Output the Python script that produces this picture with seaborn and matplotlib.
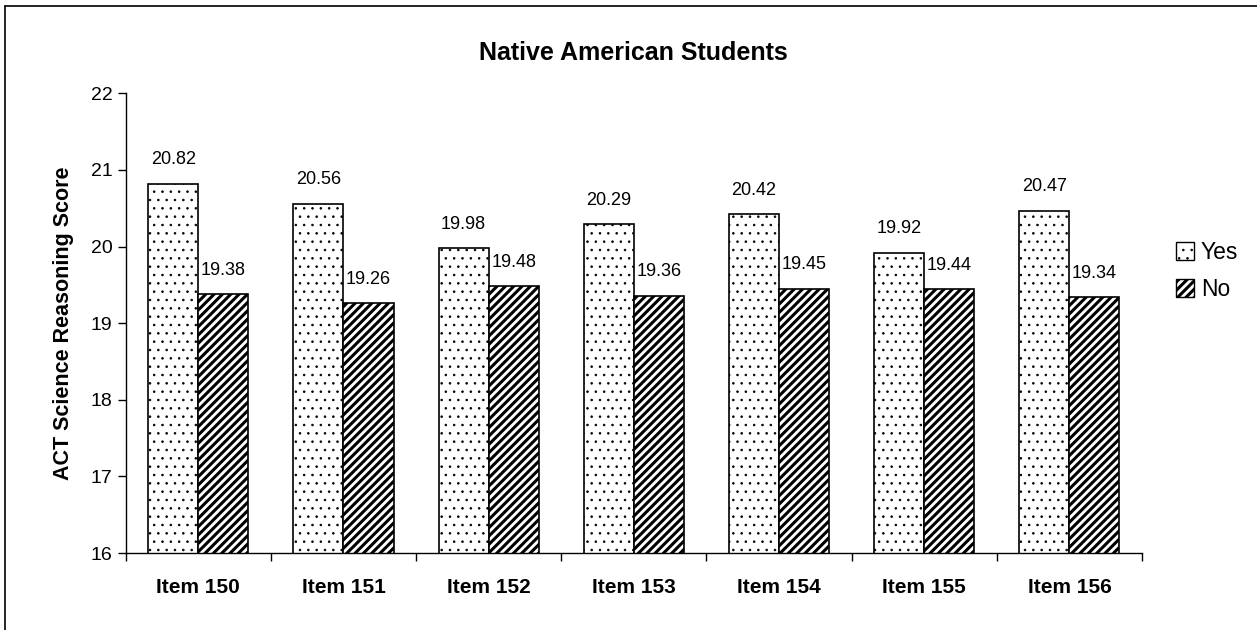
import pandas as pd
import matplotlib.pyplot as plt
import seaborn as sns
from matplotlib.lines import Line2D
from matplotlib.patches import Patch

# values
items = ["Item 150", "Item 151", "Item 152", "Item 153", "Item 154", "Item 155", "Item 156"]
yes_scores = [20.82, 20.56, 19.98, 20.29, 20.42, 19.92, 20.47]
no_scores = [19.38, 19.26, 19.48, 19.36, 19.45, 19.44, 19.34]

df = pd.DataFrame({
    "item": items * 2,
    "answer": ["Yes"] * len(items) + ["No"] * len(items),
    "score": yes_scores + no_scores,
})

sns.set_style("white")
plt.rcParams["font.family"] = ["Liberation Sans", "DejaVu Sans"]
plt.rcParams["hatch.linewidth"] = 2.2
for key in ["text.color", "axes.labelcolor", "xtick.color", "ytick.color"]:
    plt.rcParams[key] = "black"

fig = plt.figure(figsize=(12.57, 6.3), dpi=100)
ax = fig.add_axes([0.100, 0.122, 0.8085, 0.730])

sns.barplot(data=df, x="item", y="score", hue="answer", hue_order=["Yes", "No"],
            width=0.69, gap=0, edgecolor="black", linewidth=1.2,
            palette=["white", "white"], ax=ax, legend=False)

hatches = ["..", "////"]
hatch_lw = [0.6, 2.2]
for cont, h, hlw in zip(ax.containers, hatches, hatch_lw):
    for bar in cont:
        bar.set_hatch(h)
        bar.set_edgecolor("black")
        if hasattr(bar, "set_hatch_linewidth"):
            bar.set_hatch_linewidth(hlw)
    ax.bar_label(cont, fmt="%.2f", padding=11, fontsize=13, color="black")

ax.set_ylim(16, 22)
ax.set_yticks(range(16, 23))
ax.set_xlim(-0.5, len(items) - 0.5)
ax.tick_params(axis="y", labelsize=14, length=6, width=1, direction="out", left=True)
ax.tick_params(axis="x", which="major", length=0, labelsize=15, pad=18)
ax.set_xticks([i + 0.5 for i in range(-1, len(items))], minor=True)
ax.tick_params(axis="x", which="minor", length=6, width=1, direction="out", bottom=True)
for lab in ax.get_xticklabels():
    lab.set_fontweight("bold")

ax.set_xlabel("")
ax.set_ylabel("ACT Science Reasoning Score", fontsize=15.5, fontweight="bold", labelpad=12)
ax.set_title("Native American Students", fontsize=18, fontweight="bold", pad=24)

sns.despine(ax=ax)
for side in ["left", "bottom"]:
    ax.spines[side].set_linewidth(1)
    ax.spines[side].set_color("black")

handles = [Patch(facecolor="white", edgecolor="black", hatch="..", label="Yes"),
           Patch(facecolor="white", edgecolor="black", hatch="////", label="No")]
leg = fig.legend(handles=handles, loc="upper left", bbox_to_anchor=(0.919, 0.65),
                 frameon=False, fontsize=16.5, handlelength=0.8, handleheight=0.8,
                 handletextpad=0.3, labelspacing=0.6)
for p in leg.get_patches():
    if hasattr(p, "set_hatch_linewidth"):
        p.set_hatch_linewidth(0.6 if p.get_hatch() == ".." else 2.2)

# outer border: left and top edges of the scanned frame
fig.add_artist(Line2D([0.004, 0.004], [0.0, 0.99], transform=fig.transFigure,
                      color="black", linewidth=1.2))
fig.add_artist(Line2D([0.004, 1.0], [0.99, 0.99], transform=fig.transFigure,
                      color="black", linewidth=1.2))

fig.savefig("out.png", dpi=100, facecolor="white")
